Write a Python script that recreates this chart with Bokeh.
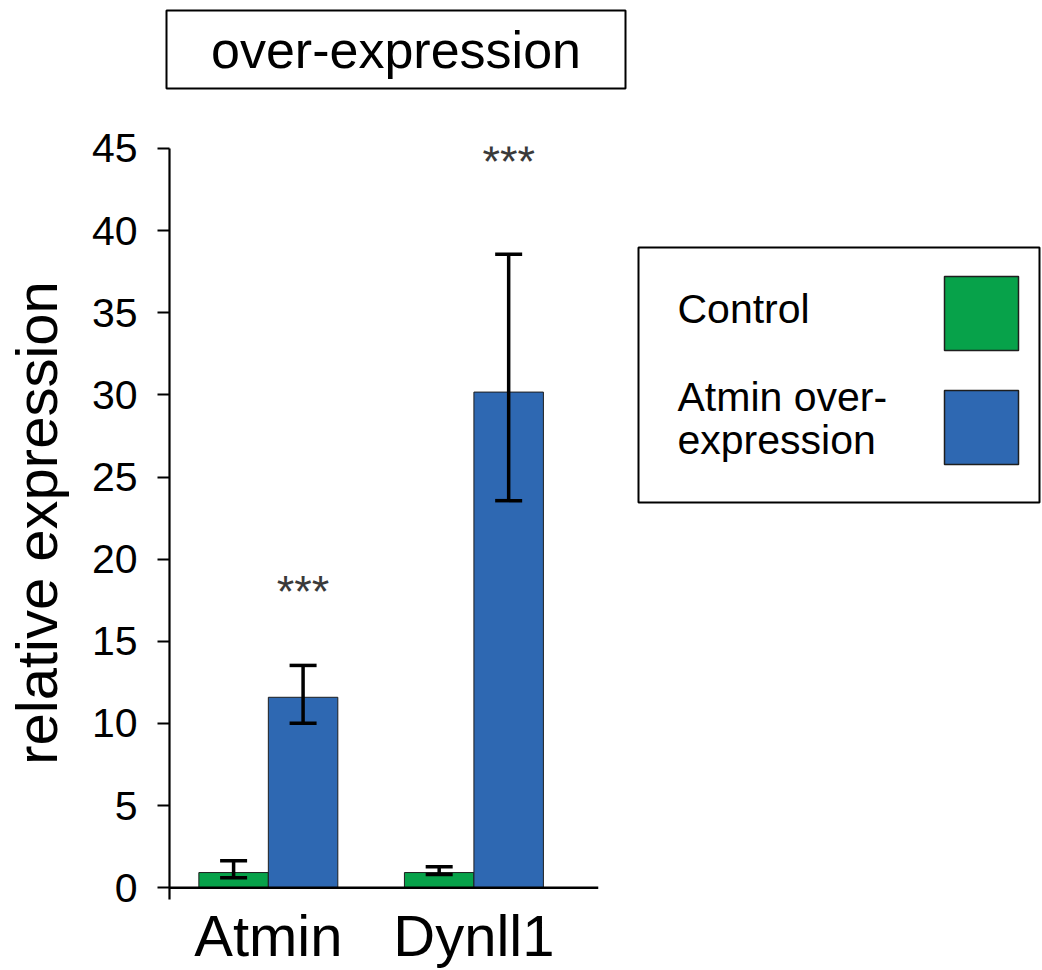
from bokeh.plotting import figure
from bokeh.models import (Range1d, FixedTicker, Whisker, TeeHead, ColumnDataSource,
                          Span, LabelSet, Spacer)
from bokeh.layouts import column, row
from bokeh.embed import file_html
from bokeh.resources import INLINE
from bokeh.core.properties import value

# ---------------- data ----------------
genes = ["Atmin", "Dynll1"]
series = ["Control", "Atmin over-expression"]
legend_labels = ["Control", "Atmin over-\nexpression"]
control_mean = [0.92, 0.92]
control_lower = [0.61, 0.80]
control_upper = [1.64, 1.27]
oe_mean = [11.59, 30.17]
oe_lower = [10.01, 23.56]
oe_upper = [13.53, 38.56]
sig_labels = ["***", "***"]
sig_y = [18.0, 44.2]
y_ticks = [0, 5, 10, 15, 20, 25, 30, 35, 40, 45]
title_text = "over-expression"
y_label = "relative expression"
colors = ["#07A24A", "#2E68B2"]

FONT = "Liberation Sans"
BAR_W = 0.338
OFF = 0.169

idx = list(range(len(genes)))
x_ctrl = [i - OFF for i in idx]
x_oe = [i + OFF for i in idx]

# ---------------- main chart ----------------
p = figure(width=618, height=880,
           x_range=Range1d(-0.4808, 1.606), y_range=Range1d(-0.72, 45.121),
           output_backend="svg", toolbar_location=None,
           min_border_left=164, min_border_right=20,
           min_border_top=56, min_border_bottom=68)
p.outline_line_color = None
p.xgrid.visible = False
p.ygrid.visible = False
p.background_fill_color = "white"

p.vbar(x=x_ctrl, top=control_mean, bottom=0, width=BAR_W,
       fill_color=colors[0], line_color="#1e1e1e", line_width=1)
p.vbar(x=x_oe, top=oe_mean, bottom=0, width=BAR_W,
       fill_color=colors[1], line_color="#1e1e1e", line_width=1)

err_src = ColumnDataSource(data=dict(
    x=x_ctrl + x_oe,
    lower=control_lower + oe_lower,
    upper=control_upper + oe_upper,
))
p.add_layout(Whisker(base="x", lower="lower", upper="upper", source=err_src,
                     level="annotation",
                     line_color="black", line_width=3.5,
                     upper_head=TeeHead(size=27, line_width=3.5, line_color="black"),
                     lower_head=TeeHead(size=27, line_width=3.5, line_color="black")))

sig_src = ColumnDataSource(data=dict(x=x_oe, y=sig_y, text=sig_labels))
p.add_layout(LabelSet(x="x", y="y", text="text", source=sig_src,
                      text_align="center", text_baseline="middle",
                      text_font=value(FONT), text_font_size="45px",
                      text_color="#3a3a3a"))

p.add_layout(Span(location=0, dimension="width", line_color="black", line_width=2.5))

ya = p.yaxis[0]
ya.ticker = FixedTicker(ticks=y_ticks)
ya.bounds = (-0.72, 45)
ya.major_tick_out = 12
ya.major_tick_in = 0
ya.minor_tick_line_color = None
ya.axis_line_width = 2.2
ya.major_tick_line_width = 2.2
ya.major_label_text_font = FONT
ya.major_label_text_font_size = "41px"
ya.major_label_text_color = "black"
ya.major_label_standoff = 20
ya.axis_label = y_label
ya.axis_label_text_font = FONT
ya.axis_label_text_font_size = "58px"
ya.axis_label_text_font_style = "normal"
ya.axis_label_text_color = "black"
ya.axis_label_standoff = 20

xa = p.xaxis[0]
xa.ticker = FixedTicker(ticks=idx)
xa.major_label_overrides = {i: g for i, g in zip(idx, genes)}
xa.axis_line_color = None
xa.major_tick_line_color = None
xa.minor_tick_line_color = None
xa.major_tick_out = 0
xa.major_tick_in = 0
xa.major_label_text_font = FONT
xa.major_label_text_font_size = "58px"
xa.major_label_text_color = "black"
xa.major_label_standoff = 3

# ---------------- title box ----------------
t = figure(width=463, height=90, x_range=Range1d(0, 459), y_range=Range1d(78, 0),
           x_axis_type=None, y_axis_type=None, output_backend="svg",
           toolbar_location=None, min_border_left=2, min_border_right=2,
           min_border_top=10, min_border_bottom=2)
t.xgrid.visible = False
t.ygrid.visible = False
t.outline_line_color = "black"
t.outline_line_width = 2
t.text(x=[229.5], y=[39], text=[title_text], text_align="center",
       text_baseline="middle", text_font=value(FONT), text_font_size="52px",
       text_color="black")

# ---------------- legend box ----------------
lg = figure(width=405, height=259, x_range=Range1d(0, 401), y_range=Range1d(255, 0),
            x_axis_type=None, y_axis_type=None, output_backend="svg",
            toolbar_location=None, min_border=2)
lg.xgrid.visible = False
lg.ygrid.visible = False
lg.outline_line_color = "black"
lg.outline_line_width = 2
sw_top = [29 + 114 * i for i in range(len(series))]
sw_bot = [v + 74 for v in sw_top]
lg.quad(left=306, right=380, top=sw_top, bottom=sw_bot,
        fill_color=colors, line_color="#1e1e1e", line_width=1.5)
lg.text(x=39, y=[61, 171], text=legend_labels, text_align="left",
        text_baseline="middle", text_font=value(FONT), text_font_size="41px",
        text_line_height=0.93, text_color="black")

layout = column(
    row(Spacer(width=164, height=90), t),
    row(p, Spacer(width=18, height=10), column(Spacer(width=10, height=155), lg)),
)

open("out.html", "w").write(file_html(layout, INLINE))
